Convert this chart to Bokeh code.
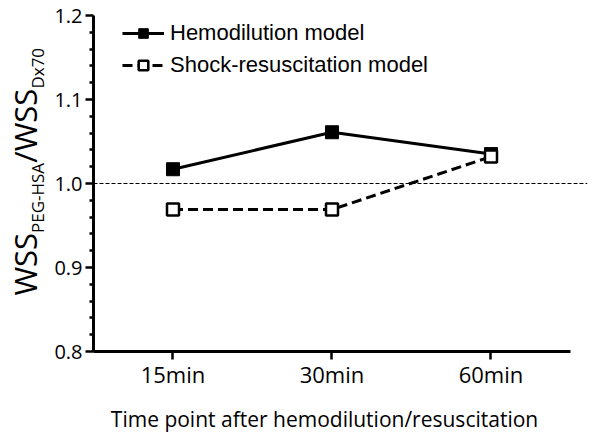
import numpy as np
from bokeh.plotting import figure
from bokeh.models import (Range1d, FixedTicker, Span, Legend, LegendItem,
                          PrintfTickFormatter, LinearAxis)
from bokeh.embed import file_html
from bokeh.resources import INLINE

categories = ["15min", "30min", "60min"]
hemodilution = [1.017, 1.061, 1.035]
shock = [0.969, 0.969, 1.032]
y_ticks = [0.8, 0.9, 1.0, 1.1, 1.2]
reference_value = 1.0
series_names = ["Hemodilution model", "Shock-resuscitation model"]
x_title = "Time point after hemodilution/resuscitation"
y_title_main = ["WSS", "/WSS"]
y_title_sub = ["PEG-HSA", "Dx70"]

xpos = [i + 0.5 for i in range(len(categories))]

W, H = 592, 439

p = figure(width=W, height=H, output_backend="svg", toolbar_location=None,
           x_range=Range1d(0, 3.107), y_range=Range1d(0.8, 1.2),
           min_border_left=93, min_border_right=5, min_border_top=15, min_border_bottom=88)
p.outline_line_color = None
p.xgrid.visible = False
p.ygrid.visible = False
p.background_fill_color = "white"
p.border_fill_color = "white"

for ax in (p.xaxis[0], p.yaxis[0]):
    ax.axis_line_width = 3
    ax.axis_line_color = "black"
    ax.major_tick_line_width = 2.5
    ax.minor_tick_line_width = 2.5
    ax.major_tick_line_color = "black"
    ax.minor_tick_line_color = "black"
    ax.major_tick_in = 0
    ax.minor_tick_in = 0
    ax.major_tick_out = 8
    ax.minor_tick_out = 4
    ax.major_label_text_color = "black"
    ax.major_label_text_font = "Open Sans"

p.xaxis.ticker = FixedTicker(ticks=xpos, minor_ticks=[])
p.xaxis.major_label_overrides = {x: c for x, c in zip(xpos, categories)}
p.xaxis.bounds = (0, len(categories))
p.xaxis.major_label_text_font_size = "22px"
p.xaxis.major_label_standoff = -1

minor = [round(v, 2) for v in np.arange(0.8, 1.2001, 0.02) if round(v, 2) not in y_ticks]
p.yaxis.ticker = FixedTicker(ticks=y_ticks, minor_ticks=minor)
p.yaxis.formatter = PrintfTickFormatter(format="%.1f")
p.yaxis.major_label_text_font_size = "20px"
p.yaxis.major_label_standoff = 3


def text_axis(positions, texts, size, standoff, orientation):
    ax = LinearAxis(ticker=FixedTicker(ticks=positions, minor_ticks=[]),
                    major_label_overrides={k: v for k, v in zip(positions, texts)})
    ax.axis_line_color = None
    ax.major_tick_line_color = None
    ax.minor_tick_line_color = None
    ax.major_tick_out = 0
    ax.major_tick_in = 0
    ax.major_label_standoff = standoff
    ax.major_label_text_font = "Open Sans"
    ax.major_label_text_font_size = size
    ax.major_label_text_color = "black"
    ax.major_label_orientation = orientation
    return ax


# y-axis title with subscripts, as label-only axes (piece centres in y data units)
main_pos = [0.9039, 1.0688]
sub_pos = [0.9828, 1.1372]
p.add_layout(text_axis(main_pos, y_title_main, "31px", 5, "parallel"), "left")
p.add_layout(text_axis(sub_pos, y_title_sub, "17px", -48, "parallel"), "left")

# x-axis title as a label-only axis below the tick labels
p.add_layout(text_axis([1.453], [x_title], "21px", 13, "horizontal"), "below")

p.add_layout(Span(location=reference_value, dimension="width", line_color="black",
                  line_width=1.1, line_dash="4 2"))

l1 = p.line(xpos, hemodilution, line_color="black", line_width=3)
s1 = p.scatter(xpos, hemodilution, marker="square", size=13, fill_color="black",
               line_color="black", line_width=1)
l2 = p.line(xpos, shock, line_color="black", line_width=3, line_dash="10 5")
s2 = p.scatter(xpos, shock, marker="square", size=12, fill_color="white",
               line_color="black", line_width=2.5)

legend = Legend(items=[LegendItem(label=series_names[0], renderers=[l1, s1]),
                       LegendItem(label=series_names[1], renderers=[l2, s2])],
                location=(29, 273))
legend.border_line_color = None
legend.background_fill_alpha = 0
legend.padding = 0
legend.margin = 0
legend.spacing = 6
legend.glyph_width = 42
legend.glyph_height = 24
legend.label_height = 24
legend.label_standoff = 6
legend.label_text_font = "Liberation Sans"
legend.label_text_font_size = "22px"
legend.label_text_color = "black"
p.add_layout(legend)

open("out.html", "w").write(file_html(p, INLINE))
